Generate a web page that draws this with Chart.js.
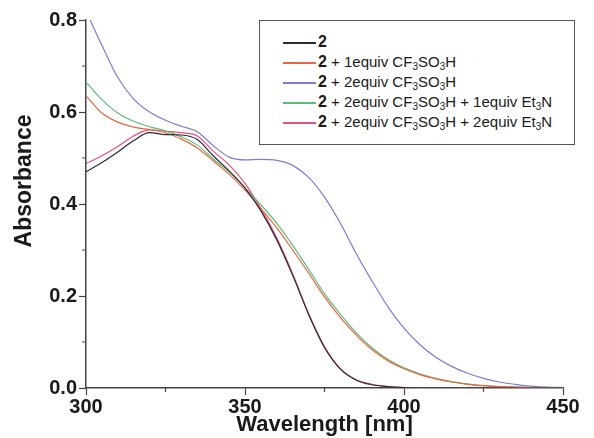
<!DOCTYPE html>
<html>
<head>
<meta charset="utf-8">
<script src="https://cdn.jsdelivr.net/npm/chart.js@4"></script>
<style>
  body { margin: 0; background: #fff; }
  #wrap { position: relative; width: 594px; height: 438px; }
  #legend {
    position: absolute; left: 259px; top: 20px; width: 314px; height: 123px;
    border: 1.5px solid #555; background: #fff;
    font-family: "Liberation Sans", Arial, sans-serif; font-size: 15px; color: #1a1a1a;
  }
  .row { position: absolute; left: 23px; height: 20px; line-height: 20px; white-space: nowrap; }
  .row i { position: absolute; left: 0; top: 10px; width: 33px; height: 1.5px; }
  .row span { margin-left: 35px; }
  .row b { font-size: 16px; }
  sub { font-size: 10px; vertical-align: -3px; line-height: 0; }
</style>
</head>
<body>
<div id="wrap">
  <canvas id="c" width="594" height="438"></canvas>
  <div id="legend"></div>
</div>
<script>
"use strict";

// wavelengths, nm
const wavelengths = [300, 305, 310, 315, 320, 325, 330, 335, 340, 345, 350, 355, 360, 365, 370, 375,
  380, 385, 390, 395, 400, 405, 410, 415, 420, 425, 430, 435, 440, 445, 450];

// absorbance per sample
const absPure = [0.470, 0.490, 0.513, 0.538, 0.555, 0.551, 0.550, 0.540, 0.505, 0.472, 0.435, 0.385,
  0.322, 0.245, 0.160, 0.088, 0.041, 0.017, 0.007, 0.003, 0.001, 0, 0, 0, 0, 0, 0, 0, 0, 0, 0];
const absAcid1 = [0.635, 0.598, 0.578, 0.567, 0.562, 0.555, 0.541, 0.522, 0.494, 0.465, 0.430, 0.390,
  0.348, 0.300, 0.250, 0.198, 0.153, 0.115, 0.083, 0.059, 0.042, 0.029, 0.020, 0.013, 0.008, 0.005,
  0.003, 0.002, 0.001, 0, 0];
const absAcid2 = [0.820, 0.745, 0.675, 0.628, 0.600, 0.582, 0.569, 0.557, 0.527, 0.502, 0.496, 0.497,
  0.495, 0.484, 0.458, 0.415, 0.358, 0.292, 0.232, 0.176, 0.130, 0.094, 0.067, 0.047, 0.032, 0.021,
  0.013, 0.008, 0.004, 0.002, 0.001];
const absBase1 = [0.665, 0.627, 0.598, 0.580, 0.568, 0.559, 0.546, 0.528, 0.498, 0.470, 0.435, 0.398,
  0.358, 0.310, 0.258, 0.205, 0.160, 0.120, 0.087, 0.062, 0.044, 0.031, 0.021, 0.014, 0.009, 0.005,
  0.003, 0.002, 0.001, 0, 0];
const absBase2 = [0.488, 0.505, 0.525, 0.548, 0.561, 0.558, 0.555, 0.548, 0.515, 0.485, 0.445, 0.390,
  0.326, 0.248, 0.162, 0.090, 0.042, 0.018, 0.008, 0.003, 0.001, 0, 0, 0, 0, 0, 0, 0, 0, 0, 0];

const seriesLabels = [
  "<b>2</b>",
  "<b>2</b> + 1equiv CF<sub>3</sub>SO<sub>3</sub>H",
  "<b>2</b> + 2equiv CF<sub>3</sub>SO<sub>3</sub>H",
  "<b>2</b> + 2equiv CF<sub>3</sub>SO<sub>3</sub>H + 1equiv Et<sub>3</sub>N",
  "<b>2</b> + 2equiv CF<sub>3</sub>SO<sub>3</sub>H + 2equiv Et<sub>3</sub>N",
];
const seriesColors = ["#2c2838", "#ec6440", "#7c7cd4", "#5cbd78", "#e8507c"];
const seriesData = [absPure, absAcid1, absAcid2, absBase1, absBase2];

const xMajor = [300, 350, 400, 450];
const yMajor = [0, 0.2, 0.4, 0.6, 0.8];
const yTitle = "Absorbance";

const FONT = "'Liberation Sans', Arial, sans-serif";
const AXIS = "#444";

// minor ticks halfway between the labelled ones, plus the y title
// (which sits a bit above the axis centre in the original)
const extras = {
  id: "extras",
  afterDraw(chart) {
    const { ctx, scales: { x, y } } = chart;
    ctx.save();
    ctx.strokeStyle = AXIS;
    ctx.lineWidth = 1.2;
    ctx.beginPath();
    for (let v = 325; v < 450; v += 50) {
      const px = x.getPixelForValue(v);
      ctx.moveTo(px, y.bottom); ctx.lineTo(px, y.bottom + 4);
    }
    for (let v = 0.1; v < 0.8; v += 0.2) {
      const py = y.getPixelForValue(v);
      ctx.moveTo(x.left, py); ctx.lineTo(x.left - 4, py);
    }
    ctx.stroke();

    ctx.translate(25, y.getPixelForValue(0.45));
    ctx.rotate(-Math.PI / 2);
    ctx.font = `bold 23px ${FONT}`;
    ctx.fillStyle = "#1a1a1a";
    ctx.textAlign = "center";
    ctx.textBaseline = "middle";
    ctx.fillText(yTitle, 0, 0);
    ctx.restore();
  },
};

new Chart(document.getElementById("c"), {
  type: "line",
  data: {
    datasets: seriesData.map((d, i) => ({
      label: seriesLabels[i],
      data: wavelengths.map((w, j) => ({ x: w, y: d[j] })),
      borderColor: seriesColors[i],
      borderWidth: 1.2,
      pointRadius: 0,
      cubicInterpolationMode: "monotone",
    })),
  },
  options: {
    responsive: false,
    animation: false,
    layout: { padding: { top: 20, right: 31, left: 0, bottom: 0 } },
    plugins: { legend: { display: false }, tooltip: { enabled: false } },
    scales: {
      x: {
        type: "linear", min: 300, max: 450,
        afterBuildTicks: (s) => { s.ticks = xMajor.map((v) => ({ value: v })); },
        afterFit: (s) => { s.height = 50; },
        border: { color: AXIS, width: 1.5 },
        grid: { drawOnChartArea: false, tickLength: 7, tickColor: AXIS, tickWidth: 1.2 },
        ticks: { color: "#1a1a1a", padding: 0, maxRotation: 0, font: { family: FONT, size: 20, weight: "bold" } },
        title: { display: true, text: "Wavelength [nm]", color: "#1a1a1a", padding: { top: -6, bottom: 0 },
          font: { family: FONT, size: 22, weight: "bold" } },
      },
      y: {
        min: 0, max: 0.8,
        afterBuildTicks: (s) => { s.ticks = yMajor.map((v) => ({ value: v })); },
        afterFit: (s) => { s.width = 86; },
        border: { color: AXIS, width: 1.5 },
        grid: { drawOnChartArea: false, tickLength: 7, tickColor: AXIS, tickWidth: 1.2 },
        ticks: { color: "#1a1a1a", padding: 2, callback: (v) => v.toFixed(1),
          font: { family: FONT, size: 20, weight: "bold" } },
      },
    },
  },
  plugins: [extras],
});

const legend = document.getElementById("legend");
seriesLabels.forEach((lab, i) => {
  const row = document.createElement("div");
  row.className = "row";
  row.style.top = (11 + i * 20) + "px";
  row.innerHTML = `<i style="background:${seriesColors[i]}"></i><span>${lab}</span>`;
  legend.appendChild(row);
});
</script>
</body>
</html>
